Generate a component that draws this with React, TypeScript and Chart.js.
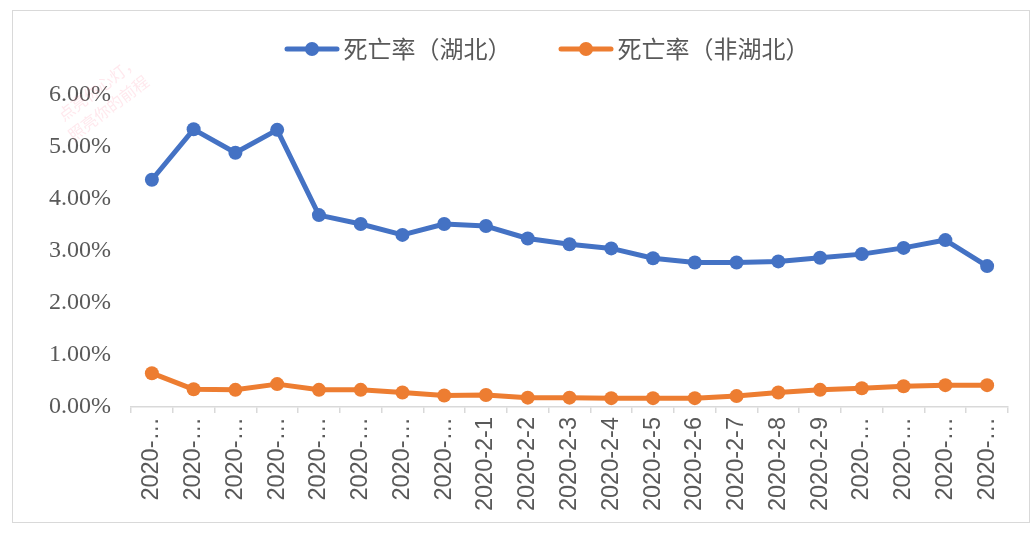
import { useEffect, useRef } from 'react'
import { Chart, registerables } from 'chart.js'

Chart.register(...registerables)

// dates on the x axis
const dates = [
  '2020-1-24', '2020-1-25', '2020-1-26', '2020-1-27', '2020-1-28', '2020-1-29', '2020-1-30',
  '2020-1-31', '2020-2-1', '2020-2-2', '2020-2-3', '2020-2-4', '2020-2-5', '2020-2-6',
  '2020-2-7', '2020-2-8', '2020-2-9', '2020-2-10', '2020-2-11', '2020-2-12', '2020-2-13',
]

// death rate, in percent
const hubeiRate = [
  4.37, 5.34, 4.89, 5.33, 3.69, 3.52, 3.31, 3.52, 3.48, 3.24, 3.13,
  3.05, 2.86, 2.78, 2.78, 2.8, 2.87, 2.94, 3.06, 3.21, 2.71,
]
const outsideRate = [
  0.65, 0.34, 0.33, 0.44, 0.33, 0.33, 0.28, 0.22, 0.23, 0.18, 0.18,
  0.17, 0.17, 0.17, 0.21, 0.28, 0.33, 0.36, 0.4, 0.42, 0.42,
]

const seriesNames = ['死亡率（湖北）', '死亡率（非湖北）']
const yTicks = [0, 1, 2, 3, 4, 5, 6]
const watermark = ['点亮你心灯，', '照亮你的前程']

const BLUE = '#4472C4'
const ORANGE = '#ED7D31'
const GREY_TEXT = '#595959'
const AXIS = '#d9d9d9'

// legend icon: a short line with a dot in the middle
function makeLegendIcon(color: string) {
  const c = document.createElement('canvas')
  c.width = 101
  c.height = 18
  const ctx = c.getContext('2d')!
  ctx.strokeStyle = color
  ctx.lineWidth = 5
  ctx.lineCap = 'round'
  ctx.beginPath()
  ctx.moveTo(c.width - 53, 9)
  ctx.lineTo(c.width - 3, 9)
  ctx.stroke()
  ctx.fillStyle = color
  ctx.beginPath()
  ctx.arc(c.width - 28, 9, 7, 0, Math.PI * 2)
  ctx.fill()
  return c
}

const legendSpacer = {
  id: 'legendSpacer',
  beforeInit(chart: any) {
    const legend = chart.legend
    if (!legend) return
    const fit = legend.fit
    legend.fit = function () {
      fit.call(this)
      this.height = 68
    }
  },
}

const watermarkPlugin = {
  id: 'watermark',
  afterDraw(chart: any) {
    const ctx = chart.ctx
    ctx.save()
    ctx.translate(47, 106)
    ctx.rotate((-37 * Math.PI) / 180)
    ctx.fillStyle = 'rgba(255, 110, 140, 0.16)'
    ctx.font = '16px "Noto Sans CJK SC"'
    ctx.fillText(watermark[0], 0, 0)
    ctx.fillText(watermark[1], -4, 22)
    ctx.restore()
  },
}

export default function App() {
  const chartRef = useRef<HTMLCanvasElement>(null)
  const chartInstance = useRef<Chart | null>(null)

  useEffect(() => {
    if (!chartRef.current) return
    if (chartInstance.current) chartInstance.current.destroy()
    const ctx = chartRef.current.getContext('2d')
    if (!ctx) return

    const icons = [makeLegendIcon(BLUE), makeLegendIcon(ORANGE)]

    chartInstance.current = new Chart(ctx, {
      type: 'line',
      data: {
        labels: dates,
        datasets: [
          {
            label: seriesNames[0],
            data: hubeiRate,
            borderColor: BLUE,
            backgroundColor: BLUE,
            borderWidth: 5,
            borderJoinStyle: 'round',
            pointRadius: 7,
            pointBorderWidth: 0,
            pointBackgroundColor: BLUE,
            tension: 0,
          },
          {
            label: seriesNames[1],
            data: outsideRate,
            borderColor: ORANGE,
            backgroundColor: ORANGE,
            borderWidth: 5,
            borderJoinStyle: 'round',
            pointRadius: 7,
            pointBorderWidth: 0,
            pointBackgroundColor: ORANGE,
            tension: 0,
          },
        ],
      },
      options: {
        responsive: true,
        maintainAspectRatio: false,
        animation: false,
        layout: { padding: { left: 36, right: 21, top: 16, bottom: 0 } },
        plugins: {
          legend: {
            display: true,
            position: 'top',
            labels: {
              usePointStyle: true,
              pointStyleWidth: 84,
              boxHeight: 24,
              padding: 10,
              color: GREY_TEXT,
              font: { family: '"Noto Sans CJK SC"', size: 24 },
              generateLabels: (chart: any) => {
                const items = Chart.defaults.plugins.legend.labels.generateLabels(chart)
                return items.map((item: any, i: number) => ({ ...item, pointStyle: icons[i] }))
              },
            },
          },
          tooltip: { enabled: false },
        },
        scales: {
          x: {
            offset: true,
            afterFit: (scale: any) => {
              scale.height = 115
            },
            grid: {
              offset: true,
              drawOnChartArea: false,
              drawTicks: true,
              tickLength: 6,
              color: AXIS,
              lineWidth: 1.5,
            },
            border: { display: true, color: AXIS, width: 1.5 },
            ticks: {
              autoSkip: false,
              maxRotation: 90,
              minRotation: 90,
              padding: 4,
              color: GREY_TEXT,
              font: { family: '"Liberation Sans"', size: 23.5 },
              callback: (_v: any, i: number) => {
                const label = dates[i]
                return label.length > 8 ? label.slice(0, 5) + '…' : label
              },
            },
          },
          y: {
            min: yTicks[0],
            max: yTicks[yTicks.length - 1],
            afterFit: (scale: any) => {
              scale.width = 82
            },
            grid: { display: false, drawTicks: false },
            border: { display: false },
            ticks: {
              stepSize: 1,
              padding: 20,
              color: GREY_TEXT,
              font: { family: '"Liberation Serif"', size: 24 },
              callback: (v: any) => Number(v).toFixed(2) + '%',
            },
          },
        },
      },
      plugins: [legendSpacer, watermarkPlugin],
    })

    return () => {
      if (chartInstance.current) {
        chartInstance.current.destroy()
        chartInstance.current = null
      }
    }
  }, [])

  return (
    <div style={{ position: 'fixed', left: 0, top: 0, width: 1034, height: 536, background: '#fff' }}>
      <div
        style={{
          position: 'absolute',
          left: 12,
          top: 10,
          width: 1016,
          height: 511,
          border: '1px solid #d9d9d9',
        }}
      >
        <canvas ref={chartRef} />
      </div>
    </div>
  )
}
